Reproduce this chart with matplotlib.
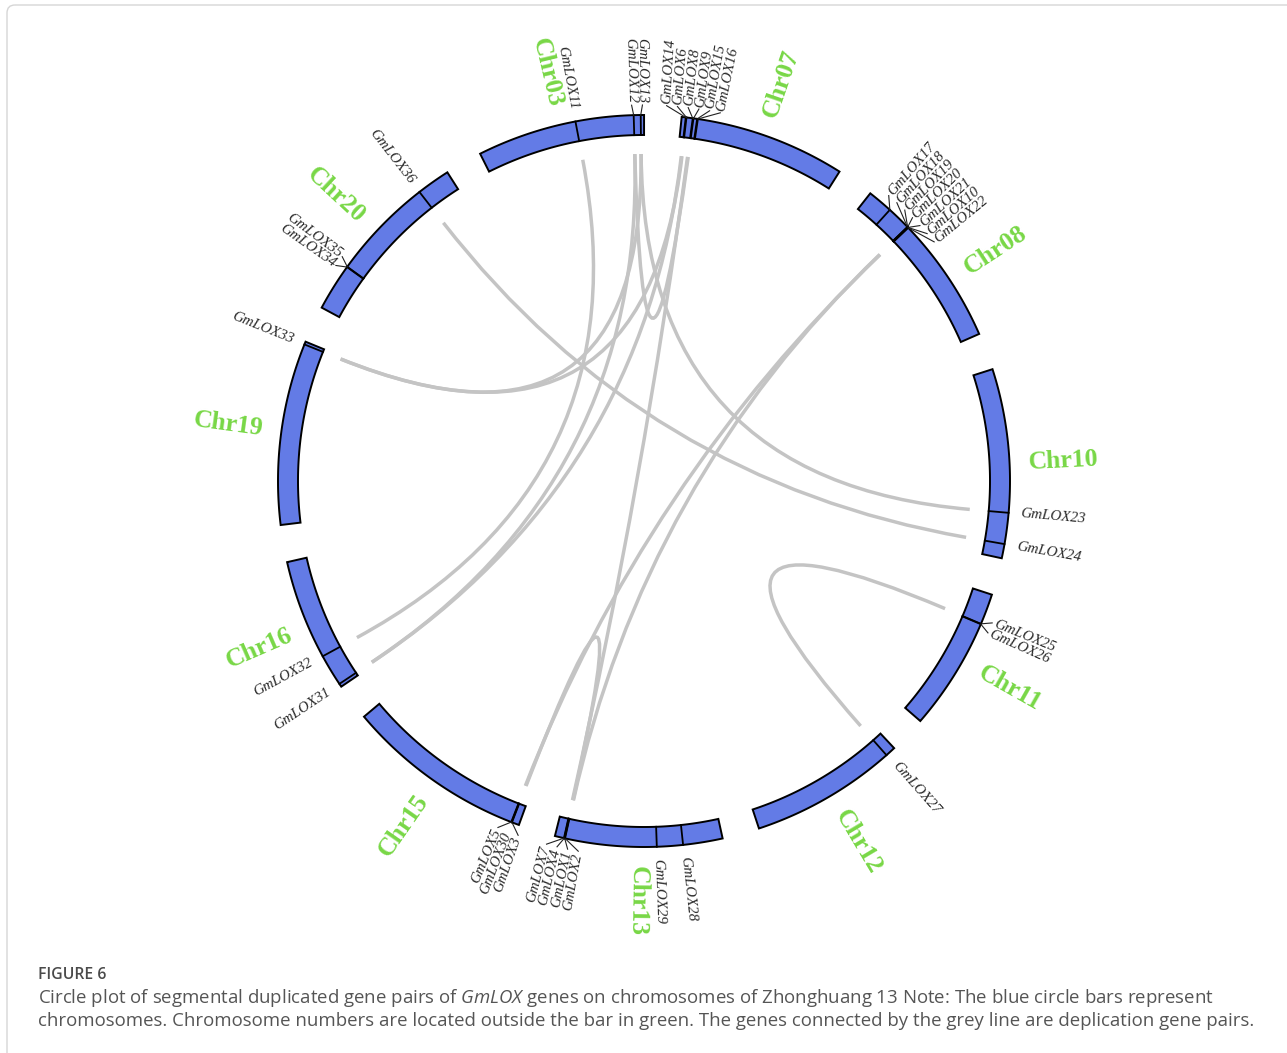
import numpy as np
import matplotlib.pyplot as plt
from matplotlib.path import Path
from matplotlib.patches import PathPatch, Polygon, FancyBboxPatch

plt.rcParams['mathtext.fontset'] = 'custom'
plt.rcParams['mathtext.it'] = 'Open Sans:italic'

# chromosomes, clockwise from the top, lengths in Mb
chroms = ['Chr03', 'Chr07', 'Chr08', 'Chr10', 'Chr11', 'Chr12',
          'Chr13', 'Chr15', 'Chr16', 'Chr19', 'Chr20']
chrom_len = [45.8, 45.4, 48.4, 51.6, 39.4, 42.7, 45.6, 51.5, 36.8, 50.4, 50.3]

# LOX genes: chromosome and position (Mb from the chromosome start)
gene_names = ['GmLOX11', 'GmLOX12', 'GmLOX13',
              'GmLOX14', 'GmLOX6', 'GmLOX8', 'GmLOX9', 'GmLOX15', 'GmLOX16',
              'GmLOX17', 'GmLOX18', 'GmLOX19', 'GmLOX20', 'GmLOX21', 'GmLOX10', 'GmLOX22',
              'GmLOX23', 'GmLOX24',
              'GmLOX25', 'GmLOX26',
              'GmLOX27',
              'GmLOX28', 'GmLOX29', 'GmLOX2', 'GmLOX1', 'GmLOX4', 'GmLOX7',
              'GmLOX3', 'GmLOX30', 'GmLOX5',
              'GmLOX31', 'GmLOX32',
              'GmLOX33',
              'GmLOX34', 'GmLOX35', 'GmLOX36']
gene_chrom = ['Chr03'] * 3 + ['Chr07'] * 6 + ['Chr08'] * 7 + ['Chr10'] * 2 + \
             ['Chr11'] * 2 + ['Chr12'] + ['Chr13'] * 6 + ['Chr15'] * 3 + \
             ['Chr16'] * 2 + ['Chr19'] + ['Chr20'] * 3
gene_pos = [27.2, 43.0, 44.9,
            1.1, 1.3, 3.0, 3.2, 4.2, 4.4,
            6.9, 13.5, 13.6, 13.6, 13.7, 13.7, 13.8,
            39.2, 47.7,
            8.4, 8.5,
            2.8,
            10.8, 17.9, 42.8, 42.9, 43.0, 43.1,
            2.0, 2.1, 2.2,
            0.9, 9.6,
            49.6,
            12.9, 13.0, 41.1]

# segmentally duplicated pairs
pairs = [('GmLOX25', 'GmLOX27'), ('GmLOX3', 'GmLOX1'), ('GmLOX36', 'GmLOX24'),
         ('GmLOX13', 'GmLOX23'), ('GmLOX33', 'GmLOX13'), ('GmLOX33', 'GmLOX6'),
         ('GmLOX32', 'GmLOX11'), ('GmLOX31', 'GmLOX12'), ('GmLOX31', 'GmLOX14'),
         ('GmLOX22', 'GmLOX5'), ('GmLOX10', 'GmLOX2'), ('GmLOX8', 'GmLOX7'),
         ('GmLOX12', 'GmLOX9')]

# layout (pixel units)
W, H = 1287, 1053
CX, CY = 644, 481
R_IN, R_OUT = 346, 366
R_LINK = 327
R_GENE_TXT = 378
R_CHR_TXT = 420
GAP = 5.9
START = -26.6
LABEL_STEP = 1.65
chr_label_shift = {'Chr08': 4.5}

BAR_COLOR = '#637BE6'
CHR_COLOR = '#78D746'
LINK_COLOR = '#C4C4C4'


def xy(theta, r):
    t = np.radians(theta)
    return CX + r * np.sin(t), CY - r * np.cos(t)


def text_rot(a):
    a = a % 360
    right = a < 182
    rot = (90 - a) if right else (270 - a)
    rot = (rot + 180) % 360 - 180
    return rot, right


def spread(want, d):
    groups = [[i] for i in range(len(want))]
    while True:
        pos = []
        for g in groups:
            m = np.mean([want[i] for i in g])
            pos.append([m + (k - (len(g) - 1) / 2) * d for k in range(len(g))])
        merged = False
        for j in range(len(groups) - 1):
            if pos[j][-1] + d > pos[j + 1][0] + 1e-9:
                groups[j] = groups[j] + groups.pop(j + 1)
                merged = True
                break
        if not merged:
            break
    out = [0.0] * len(want)
    for g, p in zip(groups, pos):
        for i, a in zip(g, p):
            out[i] = a
    return out


scale = (360 - GAP * len(chroms)) / sum(chrom_len)
chr_start = {}
a = START
for name, L in zip(chroms, chrom_len):
    chr_start[name] = a
    a += L * scale + GAP

gene_ang = {g: chr_start[c] + p * scale for g, c, p in zip(gene_names, gene_chrom, gene_pos)}

fig = plt.figure(figsize=(W / 100, H / 100), dpi=100)
ax = fig.add_axes([0, 0, 1, 1])
ax.set_xlim(0, W)
ax.set_ylim(H, 0)
ax.axis('off')

ax.add_patch(FancyBboxPatch((7, 5), W + 50, H + 50,
                            boxstyle='round,pad=0,rounding_size=8',
                            ec='#D6D6D6', fc='none', lw=1))

# links
for g1, g2 in pairs:
    p0 = xy(gene_ang[g1], R_LINK)
    p2 = xy(gene_ang[g2], R_LINK)
    path = Path([p0, (CX, CY), p2], [Path.MOVETO, Path.CURVE3, Path.CURVE3])
    ax.add_patch(PathPatch(path, fc='none', ec=LINK_COLOR, lw=2.5, capstyle='butt'))

# chromosome bars and names
for name, L in zip(chroms, chrom_len):
    a0 = chr_start[name]
    a1 = a0 + L * scale
    th = np.linspace(a0, a1, 120)
    ox, oy = xy(th, R_OUT)
    ix, iy = xy(th[::-1], R_IN)
    ax.add_patch(Polygon(np.column_stack([np.r_[ox, ix], np.r_[oy, iy]]),
                         closed=True, fc=BAR_COLOR, ec='black', lw=1.4, zorder=3))
    mid = (a0 + a1) / 2 + chr_label_shift.get(name, 0)
    rot, _ = text_rot(mid)
    tx, ty = xy(mid, R_CHR_TXT)
    ax.text(tx, ty, name, rotation=rot, rotation_mode='anchor', ha='center', va='center',
            color=CHR_COLOR, fontsize=18.5, fontweight='bold', family='Liberation Serif')

# gene ticks, labels and connectors
for c in chroms:
    members = sorted([g for g, gc in zip(gene_names, gene_chrom) if gc == c],
                     key=lambda g: gene_ang[g])
    want = [gene_ang[g] for g in members]
    lab = spread(want, LABEL_STEP)
    for g, ga, la in zip(members, want, lab):
        x0, y0 = xy(ga, R_IN)
        x1, y1 = xy(ga, R_OUT)
        ax.plot([x0, x1], [y0, y1], color='black', lw=1.3, zorder=4)
        if abs(la - ga) > 0.1:
            x2, y2 = xy(la, R_GENE_TXT - 2)
            ax.plot([x1, x2], [y1, y2], color='#222222', lw=0.8, zorder=4)
        rot, right = text_rot(la)
        tx, ty = xy(la, R_GENE_TXT)
        ax.text(tx, ty, g, rotation=rot, rotation_mode='anchor',
                ha='left' if right else 'right', va='center',
                fontsize=10.8, style='italic', family='Liberation Serif', color='#2A2A2A')

# caption
ax.text(38, 979, 'FIGURE 6', fontsize=11.3, family='Open Sans', fontweight='semibold',
        color='#4A4A4A', va='baseline')
ax.text(38, 1003,
        r'Circle plot of segmental duplicated gene pairs of $\mathit{GmLOX}$ genes on '
        r'chromosomes of Zhonghuang 13 Note: The blue circle bars represent',
        fontsize=13.4, family='Open Sans', color='#555555', va='baseline')
ax.text(38, 1026,
        'chromosomes. Chromosome numbers are located outside the bar in green. '
        'The genes connected by the grey line are deplication gene pairs.',
        fontsize=13.4, family='Open Sans', color='#555555', va='baseline')

fig.savefig('out.png', dpi=100)
